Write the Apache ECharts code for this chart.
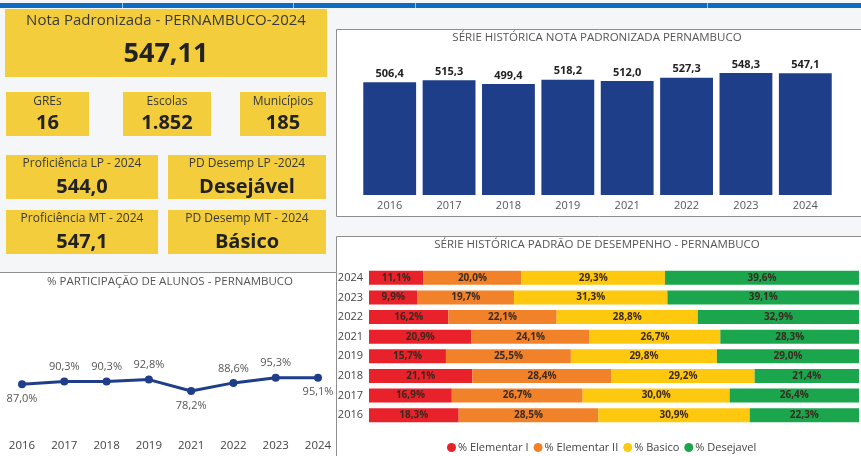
<!DOCTYPE html>
<html>
<head>
<meta charset="utf-8">
<script src="https://cdn.jsdelivr.net/npm/echarts@6/dist/echarts.min.js"></script>
<style>html,body{margin:0;padding:0;background:#F4F6F8;}#c{width:861px;height:456px;}</style>
</head>
<body>
<div id="c"></div>
<script>
// ---- data ----
var years = ['2016','2017','2018','2019','2021','2022','2023','2024'];
var notaPadronizada = [506.4, 515.3, 499.4, 518.2, 512.0, 527.3, 548.3, 547.1];
var participacao = [87.0, 90.3, 90.3, 92.8, 78.2, 88.6, 95.3, 95.1];
var elementarI = [18.3, 16.9, 21.1, 15.7, 20.9, 16.2, 9.9, 11.1];
var elementarII = [28.5, 26.7, 28.4, 25.5, 24.1, 22.1, 19.7, 20.0];
var basico = [30.9, 30.0, 29.2, 29.8, 26.7, 28.8, 31.3, 29.3];
var desejavel = [22.3, 26.4, 21.4, 29.0, 28.3, 32.9, 39.1, 39.6];
var levelNames = ['% Elementar I', '% Elementar II', '% Basico', '% Desejavel'];
var kpiMain = { label: 'Nota Padronizada - PERNAMBUCO-2024', value: '547,11' };
var kpiCounts = [
  { label: 'GREs', value: '16' },
  { label: 'Escolas', value: '1.852' },
  { label: 'Municípios', value: '185' }
];
var kpiDetail = [
  { label: 'Proficiência LP - 2024', value: '544,0' },
  { label: 'PD Desemp LP -2024', value: 'Desejável' },
  { label: 'Proficiência MT - 2024', value: '547,1' },
  { label: 'PD Desemp MT - 2024', value: 'Básico' }
];
var chartTitles = [
  'SÉRIE HISTÓRICA NOTA PADRONIZADA PERNAMBUCO',
  '% PARTICIPAÇÃO DE ALUNOS - PERNAMBUCO',
  'SÉRIE HISTÓRICA PADRÃO DE DESEMPENHO - PERNAMBUCO'
];
var labelBelowYears = ['2016', '2021', '2024'];

// ---- helpers ----
var FONT = 'Open Sans';
var CARD = '#F3CD3B';
function fmt1(v) { return v.toFixed(1).replace('.', ','); }
function txt(x, y, s, size, weight, color) {
  return { type: 'text', x: x, y: y, z: 10, style: { text: s, fontSize: size, fontWeight: weight, fontFamily: FONT, fill: color, align: 'center', verticalAlign: 'middle', textAlign: 'center', textVerticalAlign: 'middle' } };
}
function rect(x, y, w, h, fill, stroke) {
  return { type: 'rect', shape: { x: x, y: y, width: w, height: h }, z: 0, style: { fill: fill, stroke: stroke || null, lineWidth: stroke ? 1 : 0 } };
}
function card(x, y, w, h, label, value, ly, vy, lsize, vsize) {
  return [rect(x, y, w, h, CARD), txt(x + w / 2, ly, label, lsize, 'normal', '#3a3a3a'), txt(x + w / 2, vy, value, vsize, 'bold', '#222')];
}

var g = [];
// top blue bar
g.push(rect(0, 3, 861, 5, '#0F6BBF'));
[122, 293, 415, 707].forEach(function (sx) { g.push(rect(sx, 3, 1, 5, '#9CC3E8')); });
// panels
g.push(rect(336.5, 29.5, 530, 187, '#FFFFFF', '#8E8E8E'));
g.push(rect(336.5, 236.5, 530, 230, '#FFFFFF', '#8E8E8E'));
g.push(rect(-2, 272.5, 338.5, 200, '#FFFFFF', '#8E8E8E'));
// cards
g = g.concat(card(5, 9, 322, 68, kpiMain.label, kpiMain.value, 21, 54, 15, 27));
var cx = [[6, 83], [123, 88], [240, 86]];
kpiCounts.forEach(function (k, i) { g = g.concat(card(cx[i][0], 92, cx[i][1], 44, k.label, k.value, 102, 123, 12, 20)); });
var dx = [[6, 152, 155], [168, 158, 155], [6, 152, 210], [168, 158, 210]];
kpiDetail.forEach(function (k, i) {
  var y = dx[i][2];
  g = g.concat(card(dx[i][0], y, dx[i][1], 44, k.label, k.value, y + 9, y + 32, 12, 20));
});
// chart titles
g.push(txt(597, 38, chartTitles[0], 11.5, 'normal', '#555'));
g.push(txt(170, 282, chartTitles[1], 11.5, 'normal', '#555'));
g.push(txt(597, 245, chartTitles[2], 11.5, 'normal', '#555'));

var levelColors = ['#E8212A', '#F2822A', '#FDC80D', '#1BA64E'];
var levels = [elementarI, elementarII, basico, desejavel];

var stackSeries = levels.map(function (arr, i) {
  return {
    name: levelNames[i], type: 'bar', stack: 'pd', xAxisIndex: 2, yAxisIndex: 2,
    data: arr, barWidth: 14, itemStyle: { color: levelColors[i] },
    label: { show: true, position: 'inside', fontSize: 10, fontWeight: 'bold', color: '#3a2a20', fontFamily: FONT,
      formatter: function (p) { return fmt1(p.value) + '%'; } },
    emphasis: { disabled: true }
  };
});

var option = {
  animation: false,
  backgroundColor: '#F4F6F8',
  textStyle: { fontFamily: FONT },
  graphic: { elements: g },
  legend: {
    data: levelNames, left: 442, top: 437, icon: 'circle', itemWidth: 9, itemHeight: 9, itemGap: 5,
    textStyle: { fontSize: 11, color: '#444', fontFamily: FONT, padding: [0, 0, 0, -3] }, selectedMode: false
  },
  grid: [
    { left: 360, right: 26, top: 61.5, bottom: 261 },
    { left: 22, right: 543, top: 296, bottom: 19.6 },
    { left: 369, right: 2, top: 268, bottom: 31 }
  ],
  xAxis: [
    { gridIndex: 0, type: 'category', data: years, axisLine: { show: false }, axisTick: { show: false },
      axisLabel: { margin: 5, fontSize: 11, color: '#555' } },
    { gridIndex: 1, type: 'category', data: years, boundaryGap: false, axisLine: { show: false }, axisTick: { show: false },
      axisLabel: { margin: 3, fontSize: 11.5, color: '#444' } },
    { gridIndex: 2, type: 'value', min: 0, max: 100, show: false, splitLine: { show: false } }
  ],
  yAxis: [
    { gridIndex: 0, type: 'value', min: 0, max: 600, show: false, splitLine: { show: false } },
    { gridIndex: 1, type: 'value', min: 20, max: 200, show: false, splitLine: { show: false } },
    { gridIndex: 2, type: 'category', data: years, axisLine: { show: false }, axisTick: { show: false },
      axisLabel: { margin: 6, fontSize: 11, color: '#444' } }
  ],
  series: [
    { type: 'bar', xAxisIndex: 0, yAxisIndex: 0, data: notaPadronizada, barCategoryGap: '11%',
      itemStyle: { color: '#1F3E8A' },
      label: { show: true, position: 'top', distance: 3, fontSize: 11, fontWeight: 'bold', color: '#222', fontFamily: FONT,
        formatter: function (p) { return fmt1(p.value); } },
      emphasis: { disabled: true } },
    { type: 'line', xAxisIndex: 1, yAxisIndex: 1,
      data: participacao.map(function (v, i) {
        return labelBelowYears.indexOf(years[i]) >= 0 ? { value: v, label: { position: 'bottom' } } : v;
      }),
      lineStyle: { color: '#1F3E8A', width: 3 }, itemStyle: { color: '#1F3E8A' },
      symbol: 'circle', symbolSize: 8,
      label: { show: true, position: 'top', fontSize: 11, color: '#555', fontFamily: FONT,
        formatter: function (p) { return fmt1(p.value) + '%'; } },
      emphasis: { disabled: true } }
  ].concat(stackSeries)
};

var chart = echarts.init(document.getElementById('c'), null, { renderer: 'canvas' });
chart.setOption(option);
</script>
</body>
</html>
